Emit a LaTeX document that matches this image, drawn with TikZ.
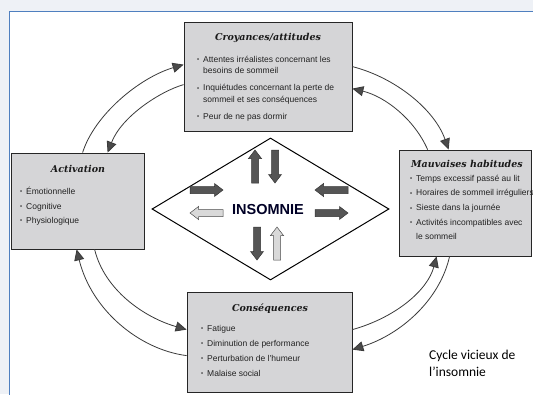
\documentclass[tikz,border=0pt]{standalone}
\usepackage{fontspec}
\setmainfont{Liberation Sans}
\newfontfamily\titlefont{DejaVu Serif}
\newfontfamily\capfont{Carlito}
\usetikzlibrary{arrows.meta,shapes.geometric,calc}
\definecolor{boxfill}{HTML}{D5D5D7}
\definecolor{panelblue}{HTML}{4F7FBF}
\definecolor{bgout}{HTML}{EEF1F6}
\definecolor{darkarrow}{HTML}{555555}
\definecolor{lightarrow}{HTML}{D9D9D9}
\definecolor{linegray}{HTML}{3A3A3A}
\definecolor{tipgray}{HTML}{4A4A4A}
\definecolor{textdark}{HTML}{222222}
\newcommand\bul{\makebox[6pt][l]{\raisebox{0.6pt}{\scalebox{0.7}{\textbullet}}}}
\newcommand\nobul{\hspace*{6pt}}
\newcommand\topstrut{\rule{0pt}{7pt}}
\tikzset{
  box/.style={draw=black!85, line width=0.8pt, fill=boxfill, inner sep=0pt, rectangle},
  boxtitle/.style={font=\titlefont\bfseries\itshape\fontsize{9.5}{11}\selectfont, text=black!90, inner sep=0pt, anchor=base},
  items/.style={font=\fontsize{8.5}{14.5}\selectfont, text=textdark, align=left, inner sep=0pt, anchor=north west},
  darkfill/.style={draw=black!80, fill=darkarrow, line width=0.5pt},
  lightfill/.style={draw=black!70, fill=lightarrow, line width=0.5pt},
  pics/blockarr/.style={code={
    \path[#1] (-16.5,-3.5) -- (8,-3.5) -- (8,-6.5) -- (16.5,0) -- (8,6.5) -- (8,3.5) -- (-16.5,3.5) -- cycle;}},
  conn/.style={draw=linegray, line width=0.8pt, -{Triangle[length=11pt,width=10pt,fill=tipgray]}},
}
\begin{document}
\begin{tikzpicture}[x=1pt,y=-1pt]
\useasboundingbox (0,0) rectangle (533,394);
\fill[bgout] (0,0) rectangle (533,394);
\fill[white] (9,11) rectangle (534,395);
\draw[panelblue, line width=1pt] (9,395) -- (9,11) -- (534,11);

% boxes
\node[box, minimum width=168pt, minimum height=109pt] (croy) at (268,76.5) {};
\node[box, minimum width=133pt, minimum height=96pt] (act) at (77.5,201) {};
\node[box, minimum width=132pt, minimum height=106pt] (mau) at (465,203) {};
\node[box, minimum width=165pt, minimum height=100pt] (cons) at (269.5,342) {};

% titles
\node[boxtitle] (croyT) at (268,40) {Croyances/attitudes};
\node[boxtitle] (actT) at (78,172) {Activation};
\node[boxtitle] (mauT) at (467,167) {Mauvaises habitudes};
\node[boxtitle] (consT) at (270,311) {Conséquences};

% items (top = first baseline - 7)
\node[items] (croyI) at (197,55) {\topstrut\bul Attentes irréalistes concernant les\\[-3pt]\nobul besoins de sommeil\\[2.5pt]\bul Inquiétudes concernant la perte de\\[-3pt]\nobul sommeil et ses conséquences\\[2.5pt]\bul Peur de ne pas dormir};
\node[items] (actI) at (20,187) {\topstrut\bul Émotionnelle\\\bul Cognitive\\\bul Physiologique};
\node[items] (mauI) at (410,174) {\topstrut\bul Temps excessif passé au lit\\\bul Horaires de sommeil irréguliers\\[0.5pt]\bul Sieste dans la journée\\\bul Activités incompatibles avec\\\nobul le sommeil};
\node[items, font=\fontsize{8.5}{15}\selectfont] (consI) at (201,324) {\topstrut\bul Fatigue\\\bul Diminution de performance\\\bul Perturbation de l’humeur\\\bul Malaise social};

% diamond
\node[diamond, draw=black, line width=1pt, fill=white, minimum width=237pt, minimum height=142pt, inner sep=0pt] (ins) at (270.5,209) {};
\node[font=\bfseries\fontsize{14.5}{15}\selectfont, text=black!85!blue, inner sep=0pt] (insT) at (268,210) {INSOMNIE};

% block arrows
\pic (b1) [rotate=90] at (255,166.5) {blockarr=darkfill};
\pic (b2) [rotate=-90] at (275,166.5) {blockarr=darkfill};
\pic (b3) at (206.5,190) {blockarr=darkfill};
\pic (b4) [rotate=180] at (206.5,213) {blockarr=lightfill};
\pic (b5) [rotate=180] at (331.5,190) {blockarr=darkfill};
\pic (b6) at (331.5,213) {blockarr=darkfill};
\pic (b7) [rotate=-90] at (257,243.5) {blockarr=darkfill};
\pic (b8) [rotate=90] at (277,243.5) {blockarr=lightfill};

% curved connectors
\draw[conn] ([xshift=72pt]act.north west) .. controls +(12,-38) and +(-44,13) .. ([yshift=-43pt]croy.north west);
\draw[conn] ([yshift=-63pt]croy.north west) .. controls +(-24,7) and +(14,-36) .. ([xshift=97pt]act.north west);
\draw[conn] ([yshift=-45pt]croy.north east) .. controls +(43,11) and +(-14,-40) .. ([xshift=50pt]mau.north west);
\draw[conn] ([xshift=29pt]mau.north west) .. controls +(-13,-30) and +(33,8) .. ([yshift=-67pt]croy.north east);
\draw[conn] ([yshift=-64pt]cons.north west) .. controls +(-47,-6) and +(15,61) .. ([xshift=66pt]act.south west);
\draw[conn] ([xshift=84pt]act.south west) .. controls +(10,41) and +(-42,-12) .. ([yshift=-38pt]cons.north west);
\draw[conn] ([xshift=51pt]mau.south west) .. controls +(-10,44) and +(48,-15) .. ([yshift=-58pt]cons.north east);
\draw[conn] ([yshift=-38pt]cons.north east) .. controls +(43,-12) and +(-9,34) .. ([xshift=38pt]mau.south west);

% caption
\node[font=\capfont\fontsize{13.5}{17}\selectfont, anchor=base west, align=left, inner sep=0pt, text=black] (cap) at (429,376) {Cycle vicieux de\\l’insomnie};
\end{tikzpicture}
\end{document}
